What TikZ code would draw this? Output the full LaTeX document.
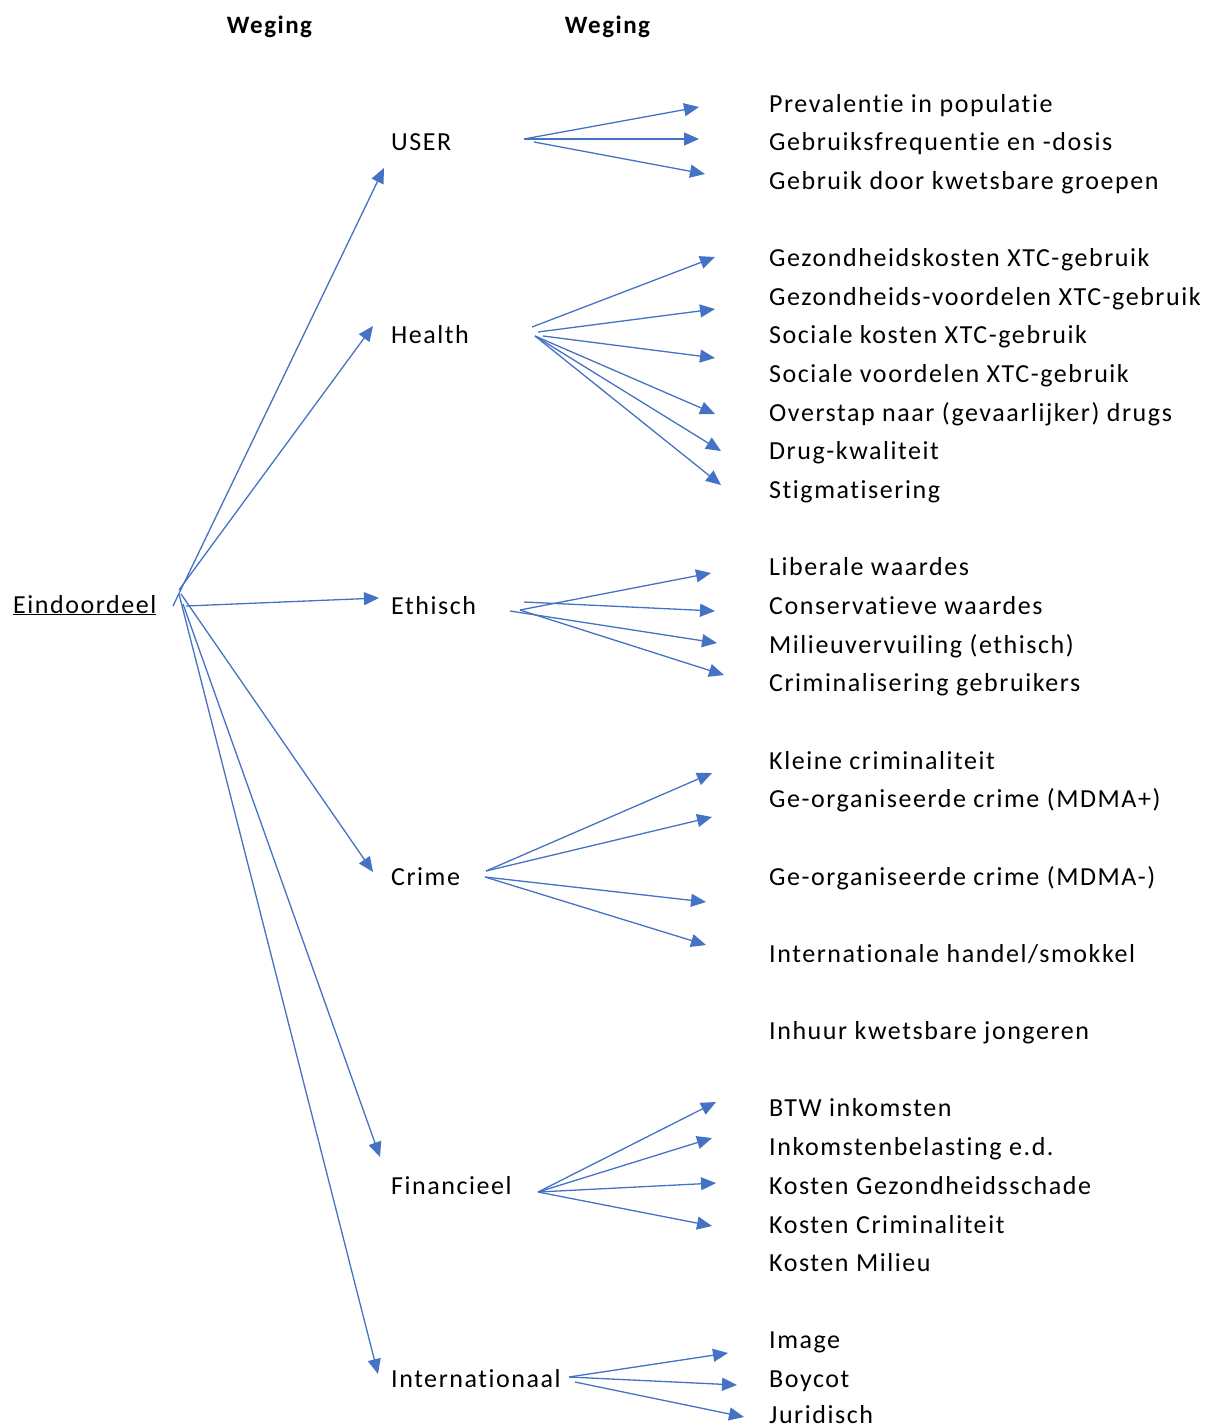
\documentclass[tikz,border=0pt]{standalone}
\usepackage{fontspec}
\setmainfont{Carlito}[LetterSpace=6, Ligatures=NoCommon]
\usetikzlibrary{arrows.meta}
\definecolor{arrowblue}{HTML}{4472C4}
\begin{document}
\begin{tikzpicture}[x=1pt, y=-1pt, every node/.style={font=\fontsize{26}{31}\selectfont, inner sep=0pt, anchor=base west}, arr/.style={draw=arrowblue, line width=1.3pt, -{Triangle[length=15pt, width=13pt]}}]
\useasboundingbox (0,0) rectangle (1215,1428);

% Headers
\node[anchor=base, font=\fontsize{25}{30}\selectfont\bfseries] (weging1) at (269.5,33) {Weging};
\node[anchor=base, font=\fontsize{25}{30}\selectfont\bfseries] (weging2) at (607.5,33) {Weging};

% Nodes
\node (eind) at (13,613) {\underline{Eindoordeel}};
\node (user) at (391,150) {USER};
\node (health) at (391,343) {Health};
\node (ethisch) at (391,614) {Ethisch};
\node (crime) at (391,885) {Crime};
\node (fin) at (391,1194) {Financieel};
\node (intl) at (391,1387) {Internationaal};

\node (prev) at (769,112) {Prevalentie in populatie};
\node (freq) at (769,150) {Gebruiksfrequentie en -dosis};
\node (kwets) at (769,189) {Gebruik door kwetsbare groepen};
\node (gzkost) at (769,266) {Gezondheidskosten XTC-gebruik};
\node (gzvoor) at (769,305) {Gezondheids-voordelen XTC-gebruik};
\node (sokost) at (769,343) {Sociale kosten XTC-gebruik};
\node (sovoor) at (769,382) {Sociale voordelen XTC-gebruik};
\node (overstap) at (769,421) {Overstap naar (gevaarlijker) drugs};
\node (kwal) at (769,459) {Drug-kwaliteit};
\node (stigma) at (769,498) {Stigmatisering};
\node (liberaal) at (769,575) {Liberale waardes};
\node (conserv) at (769,614) {Conservatieve waardes};
\node (milieu) at (769,653) {Milieuvervuiling (ethisch)};
\node (crimi) at (769,691) {Criminalisering gebruikers};
\node (klein) at (769,769) {Kleine criminaliteit};
\node (orgplus) at (769,807) {Ge-organiseerde crime (MDMA+)};
\node (orgmin) at (769,885) {Ge-organiseerde crime (MDMA-)};
\node (handel) at (769,962) {Internationale handel/smokkel};
\node (inhuur) at (769,1039) {Inhuur kwetsbare jongeren};
\node (btw) at (769,1116) {BTW inkomsten};
\node (inkomst) at (769,1155) {Inkomstenbelasting e.d.};
\node (kgezond) at (769,1194) {Kosten Gezondheidsschade};
\node (kcrimi) at (769,1233) {Kosten Criminaliteit};
\node (kmilieu) at (769,1271) {Kosten Milieu};
\node (image) at (769,1348) {Image};
\node (boycot) at (769,1387) {Boycot};
\node (jurid) at (769,1423) {Juridisch};

% Arrow ends
\coordinate (e1) at (173,606); \coordinate (e2) at (179,590); \coordinate (e3) at (186,606);
\coordinate (e4) at (181,594); \coordinate (e5) at (183,604); \coordinate (e6) at (179,594);
\coordinate (tuser) at (384,168); \coordinate (thealth) at (373,326); \coordinate (tethisch) at (379,598);
\coordinate (tcrime) at (373,872); \coordinate (tfin) at (380,1157); \coordinate (tintl) at (378,1374);

\coordinate (u0) at (524,139); \coordinate (u0b) at (534,142);
\coordinate (u1) at (699,107); \coordinate (u2) at (699,139); \coordinate (u3) at (705,174);

\coordinate (h0) at (532,327); \coordinate (h0b) at (538,332); \coordinate (h0c) at (543,336); \coordinate (h0d) at (535,336);
\coordinate (h1) at (715,257); \coordinate (h2) at (715,309); \coordinate (h3) at (715,358);
\coordinate (h4) at (715,414); \coordinate (h5) at (721,451); \coordinate (h6) at (721,485);

\coordinate (s0) at (520,610); \coordinate (s0b) at (524,602); \coordinate (s0c) at (510,611);
\coordinate (s1) at (711,573); \coordinate (s2) at (715,611); \coordinate (s3) at (717,643); \coordinate (s4) at (724,675);

\coordinate (c0) at (486,871); \coordinate (c0b) at (485,877);
\coordinate (c1) at (712,773); \coordinate (c2) at (712,817); \coordinate (c3) at (706,902); \coordinate (c4) at (706,945);

\coordinate (f0) at (538,1192);
\coordinate (f1) at (716,1102); \coordinate (f2) at (712,1138); \coordinate (f3) at (716,1183); \coordinate (f4) at (712,1226);

\coordinate (i0) at (569,1377); \coordinate (i0b) at (575,1382);
\coordinate (i1) at (728,1353); \coordinate (i2) at (737,1385); \coordinate (i3) at (744,1417);

% Arrows
\draw[arr] (e1) -- (tuser);
\draw[arr] (e2) -- (thealth);
\draw[arr] (e3) -- (tethisch);
\draw[arr] (e4) -- (tcrime);
\draw[arr] (e5) -- (tfin);
\draw[arr] (e6) -- (tintl);

\draw[arr] (u0) -- (u1);
\draw[arr] (u0) -- (u2);
\draw[arr] (u0b) -- (u3);

\draw[arr] (h0) -- (h1);
\draw[arr] (h0b) -- (h2);
\draw[arr] (h0c) -- (h3);
\draw[arr] (h0d) -- (h4);
\draw[arr] (h0d) -- (h5);
\draw[arr] (h0d) -- (h6);

\draw[arr] (s0) -- (s1);
\draw[arr] (s0b) -- (s2);
\draw[arr] (s0c) -- (s3);
\draw[arr] (s0) -- (s4);

\draw[arr] (c0) -- (c1);
\draw[arr] (c0) -- (c2);
\draw[arr] (c0b) -- (c3);
\draw[arr] (c0b) -- (c4);

\draw[arr] (f0) -- (f1);
\draw[arr] (f0) -- (f2);
\draw[arr] (f0) -- (f3);
\draw[arr] (f0) -- (f4);

\draw[arr] (i0) -- (i1);
\draw[arr] (i0) -- (i2);
\draw[arr] (i0b) -- (i3);

\end{tikzpicture}
\end{document}
